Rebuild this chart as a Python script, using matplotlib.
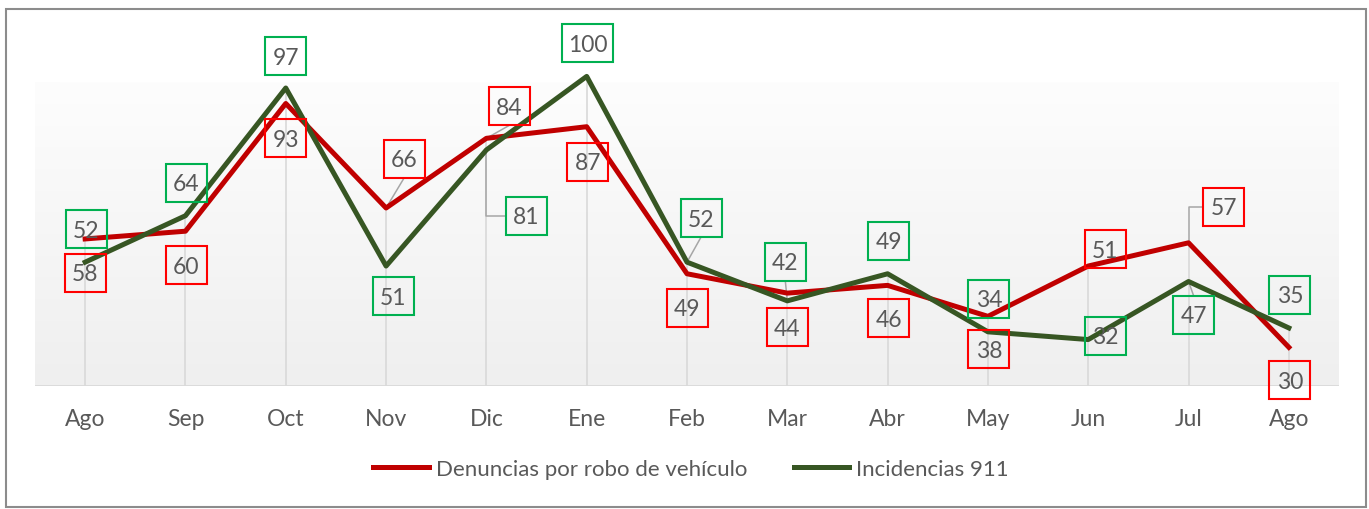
import numpy as np
import matplotlib.pyplot as plt
from matplotlib.patches import Rectangle
from matplotlib.lines import Line2D
from matplotlib.colors import LinearSegmentedColormap

plt.rcParams['font.family'] = ['Lato', 'DejaVu Sans']

meses = ['Ago', 'Sep', 'Oct', 'Nov', 'Dic', 'Ene', 'Feb', 'Mar', 'Abr', 'May', 'Jun', 'Jul', 'Ago']
denuncias = [58, 60, 93, 66, 84, 87, 49, 44, 46, 38, 51, 57, 30]
incidencias = [52, 64, 97, 51, 81, 100, 52, 42, 49, 34, 32, 47, 35]

# label box offsets from the point, in pixels (dx right, dy up)
off_den = [(0, -34), (1, -34), (0, -35), (18, 49), (23, 32), (1, -35), (0, -34),
           (0, -34), (1, -33), (1, -33), (17, 17), (35, 36), (1, -33)]
off_inc = [(1, 33), (1, 33), (0, 32), (7, -30), (40, -66), (1, 33), (14, 44),
           (-2, 39), (1, 33), (1, 33), (17, 4), (5, -33), (1, 33)]
# leader lines: '' none, 's' straight, 'e' elbow
lead_den = ['', '', '', 's', 's', '', '', '', '', '', '', 'e', '']
lead_inc = ['', '', '', '', 'e', '', 's', 's', '', '', '', 's', '']

RED = '#C00000'
GREEN = '#375623'
TXT = '#595959'

W, H = 1369, 510
fig = plt.figure(figsize=(W / 100, H / 100), dpi=100)
ax = fig.add_axes([35 / W, (H - 387) / H, 1304 / W, 387 / H])

x = np.arange(len(meses))

# plot area gradient
grad = LinearSegmentedColormap.from_list('g', ['#efefef', '#fdfdfd'])
ax.imshow(np.linspace(0, 1, 256).reshape(-1, 1), extent=(-0.5, 12.5, 20, 98.3),
          cmap=grad, origin='lower', aspect='auto', zorder=0)
ax.set_xlim(-0.5, 12.5)
ax.set_ylim(20, 120)

# drop lines
tops = np.maximum(denuncias, incidencias)
ax.vlines(x, 20, tops, color='#d9d9d9', lw=1.2, zorder=1)
ax.axhline(20, color='#d9d9d9', lw=2, zorder=1)

ax.plot(x, denuncias, color=RED, lw=3.6, zorder=3)
ax.plot(x, incidencias, color=GREEN, lw=3.6, zorder=3)

for s in ax.spines.values():
    s.set_visible(False)
ax.set_yticks([])
ax.set_xticks(x)
ax.set_xticklabels(meses, fontsize=16.5, color=TXT)
ax.tick_params(axis='x', length=0, pad=16)


def draw_labels(values, offsets, leaders, edge):
    inv = ax.transData.inverted()
    for i, v in enumerate(values):
        px, py = ax.transData.transform((i, v))
        dx, dy = offsets[i]
        cx, cy = px + dx, py + dy
        w = 51 if v >= 100 else 41
        h = 38
        (x0, y0) = inv.transform((cx - w / 2, cy - h / 2))
        (x1, y1) = inv.transform((cx + w / 2, cy + h / 2))
        ax.add_patch(Rectangle((x0, y0), x1 - x0, y1 - y0, fill=False,
                               ec=edge, lw=1.5, zorder=5, clip_on=False))
        tx, ty = inv.transform((cx, cy - 1))
        ax.text(tx, ty, str(v), ha='center', va='center', fontsize=16.5,
                color=TXT, zorder=6, clip_on=False)
        if leaders[i] == 's':
            end = (cx, cy - h / 2) if dy > 0 else (cx, cy + h / 2)
            pts = [(px, py), end]
        elif leaders[i] == 'e':
            pts = [(px, py), (px, cy), (cx - w / 2, cy)]
        else:
            continue
        d = inv.transform(pts)
        ax.plot(d[:, 0], d[:, 1], color='#a6a6a6', lw=1.1, zorder=2)


draw_labels(denuncias, off_den, lead_den, '#FF0000')
draw_labels(incidencias, off_inc, lead_inc, '#00B050')

handles = [Line2D([], [], color=RED, lw=3.6), Line2D([], [], color=GREEN, lw=3.6)]
fig.legend(handles, ['Denuncias por robo de vehículo', 'Incidencias 911'],
           loc='center', bbox_to_anchor=(691 / W, 1 - 470 / H), ncol=2,
           frameon=False, fontsize=16, handlelength=2.5, handletextpad=0.3,
           columnspacing=2.1, labelcolor=TXT)

fig.add_artist(Rectangle((6 / W, 2 / H), 1360 / W, 498 / H, transform=fig.transFigure,
                         fill=False, ec='#8c8c8c', lw=1.5))

fig.savefig('out.png', dpi=100)
